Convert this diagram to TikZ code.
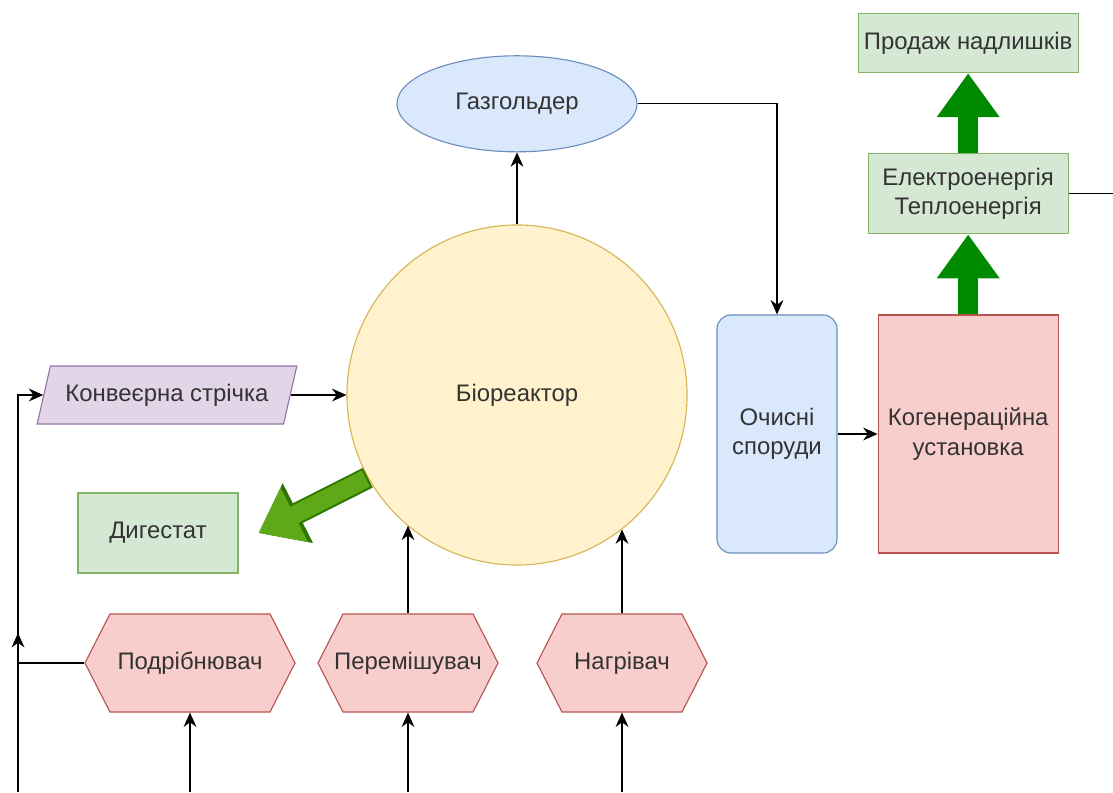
\documentclass[tikz,border=0pt]{standalone}
\usepackage{fontspec}
\setmainfont{Liberation Sans}
\usepackage{xcolor}
\usepackage{tikz}
\usetikzlibrary{arrows.meta,positioning,calc,shapes.geometric,shapes.symbols}
\definecolor{greenfill}{HTML}{D5E8D4}
\definecolor{greenline}{HTML}{82B366}
\definecolor{bluefill}{HTML}{DAE8FC}
\definecolor{blueline}{HTML}{6C8EBF}
\definecolor{yellowfill}{HTML}{FFF2CC}
\definecolor{yellowline}{HTML}{D6B656}
\definecolor{redfill}{HTML}{F8CECC}
\definecolor{redline}{HTML}{B85450}
\definecolor{purplefill}{HTML}{E1D5E7}
\definecolor{purpleline}{HTML}{9673A6}
\definecolor{darkgreen}{HTML}{008A00}
\definecolor{limegreen}{HTML}{5FA818}
\definecolor{limeline}{HTML}{2D7600}
\definecolor{ink}{HTML}{333333}
\tikzset{
  base/.style={
    line width=.8pt,inner sep=2pt,align=center,
    text=ink,font=\fontsize{17}{21}\selectfont
  },
  greenbox/.style={base,draw=greenline,fill=greenfill},
  bluebox/.style={
    base,draw=blueline,fill=bluefill,rounded corners=10pt,
    minimum width=3cm,minimum height=5.95cm
  },
  redbox/.style={
    base,draw=redline,fill=redfill,
    minimum width=4.5cm,minimum height=5.95cm
  },
  bluecloud/.style={
    base,ellipse,draw=blueline,fill=bluefill,
    minimum width=6cm,minimum height=2.4cm
  },
  tank/.style={
    base,circle,draw=yellowline,fill=yellowfill,minimum size=8.5cm
  },
  beltbox/.style={
    base,trapezium,trapezium left angle=67,trapezium right angle=113,
    trapezium stretches=true,draw=purpleline,fill=purplefill,
    minimum width=6.5cm,minimum height=1.45cm
  },
  hexbox/.style={
    base,signal,signal to=east and west,signal pointer angle=126,
    inner xsep=-.25cm,draw=redline,fill=redfill,minimum height=2.45cm
  },
  arrow/.style={-{Stealth[length=3.6mm,width=3.2mm]},draw=black,line width=.9pt},
  link/.style={draw=black,line width=.9pt},
  fatarrow/.style={-{Triangle[length=1.1cm,width=1.5cm]},draw=darkgreen,line width=.5cm},
  limearrow/.style={-{Triangle[length=1.1cm,width=1.6cm]},draw=limeline,line width=.55cm},
  limefill/.style={-{Triangle[length=1cm,width=1.45cm]},draw=limegreen,line width=.45cm}
}
\begin{document}
\begin{tikzpicture}[x=0.025cm,y=-0.025cm]
\useasboundingbox (0,0) rectangle (1113,792);
\node[tank] (bio) at (517,395) {Біореактор};
\node[bluecloud,above=1.8cm of bio] (gas) {Газгольдер};
\node[bluebox] (clean) at (777,434) {Очисні\\споруди};
\node[redbox,right=1cm of clean] (cogen) {Когенераційна\\установка};
\node[greenbox,minimum width=5cm,minimum height=2cm,above=2cm of cogen] (energy) {Електроенергія\\Теплоенергія};
\node[greenbox,minimum width=5.5cm,minimum height=1.48cm,above=2cm of energy] (sale) {Продаж надлишків};
\node[beltbox] (belt) at (167,395) {Конвеєрна стрічка};
\node[greenbox,minimum width=4cm,minimum height=2cm] (dig) at (158,533) {Дигестат};
\node[hexbox,minimum width=5.25cm] (crush) at (190,663) {Подрібнювач};
\node[hexbox,minimum width=4.5cm] (mix) at (408,663) {Перемішувач};
\node[hexbox,minimum width=4.25cm] (heat) at (622,663) {Нагрівач};
\coordinate (lb) at (18,792);
\coordinate (lj) at (18,633);
\coordinate (re) at (1113,195);
\draw[arrow] (bio.north)--(gas.south);
\draw[arrow] (gas.east) -| (clean.north);
\draw[arrow] (belt.east)--(belt.east -| bio.west);
\draw[arrow] (clean.east)--(cogen.west);
\draw[arrow] (mix.north)--(mix.north |- bio.-130);
\draw[arrow] (heat.north)--(heat.north |- bio.-52);
\draw[arrow] (lb)--(lj);
\draw[arrow] (crush.west)--(crush.west -| lb) |- (belt.west);
\draw[arrow] (crush.south |- lb)--(crush.south);
\draw[arrow] (mix.south |- lb)--(mix.south);
\draw[arrow] (heat.south |- lb)--(heat.south);
\draw[link] (energy.east)--(energy.east -| re);
\draw[fatarrow] (cogen.north)--(energy.south);
\draw[fatarrow] (energy.north)--(sale.south);
\draw[limearrow] (bio.209)--($(dig.east)+(20,0)$);
\draw[limefill] ($(bio.209)!1.5pt!(dig.east)$)--($(dig.east)+(20,0)$);
\end{tikzpicture}
\end{document}
